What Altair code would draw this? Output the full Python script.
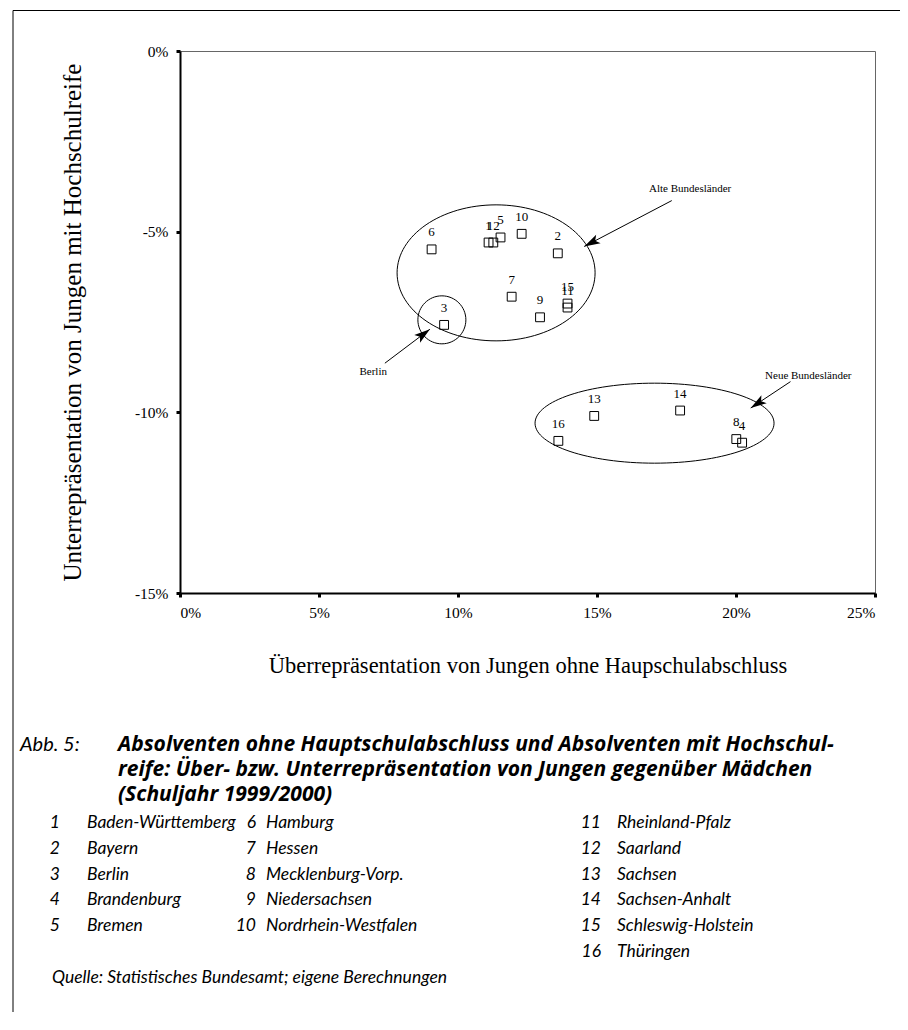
import math
import altair as alt
import pandas as pd

# ---------------- data ----------------
state_ids = list(range(1, 17))
state_names = ["Baden-Württemberg", "Bayern", "Berlin", "Brandenburg", "Bremen",
               "Hamburg", "Hessen", "Mecklenburg-Vorp.", "Niedersachsen",
               "Nordrhein-Westfalen", "Rheinland-Pfalz", "Saarland", "Sachsen",
               "Sachsen-Anhalt", "Schleswig-Holstein", "Thüringen"]
# Überrepräsentation von Jungen ohne Hauptschulabschluss (%)
x_over = [11.10, 13.59, 9.50, 20.22, 11.53, 9.05, 11.93, 20.01, 12.95, 12.29,
          13.94, 11.27, 14.90, 17.99, 13.94, 13.61]
# Unterrepräsentation von Jungen mit Hochschulreife (%)
y_under = [-5.30, -5.60, -7.58, -10.84, -5.16, -5.49, -6.80, -10.74, -7.37, -5.06,
           -7.10, -5.30, -10.10, -9.95, -6.99, -10.79]

x_ticks = [0, 5, 10, 15, 20, 25]
y_ticks = [0, -5, -10, -15]

# annotation groups (centres in data units)
group_names = ["Alte Bundesländer", "Berlin", "Neue Bundesländer"]
group_cx = [11.37, 9.42, 17.07]
group_cy = [-6.14, -7.44, -10.30]
label_x = [18.35, 6.95, 22.60]
label_y = [-3.83, -8.89, -9.00]
arrow_x0 = [17.69, 7.37, 21.96]
arrow_y0 = [-4.14, -8.64, -9.15]
arrow_x1 = [14.54, 8.99, 20.53]
arrow_y1 = [-5.41, -7.70, -9.88]

title_prefix = "Abb. 5:"
title_lines = ["Absolventen ohne Hauptschulabschluss und Absolventen mit Hochschul-",
               "reife: Über- bzw. Unterrepräsentation von Jungen gegenüber Mädchen",
               "(Schuljahr 1999/2000)"]
source_text = "Quelle: Statistisches Bundesamt; eigene Berechnungen"

x_title = "Überrepräsentation von Jungen ohne Haupschulabschluss"
y_title = "Unterrepräsentation von Jungen mit Hochschulreife"

# ---------------- layout ----------------
W, H = 695, 542
OX, OY = 180, 51          # page position of plot origin
SERIF = "Liberation Serif"
CAP_T = "Open Sans"
CAP_L = "Lato"

px_x = W / 25.0
px_y = H / 15.0

xs = alt.Scale(domain=[0, 25], nice=False, zero=False)
ys = alt.Scale(domain=[-15, 0], nice=False, zero=False)

pts = pd.DataFrame({"id": state_ids, "name": state_names, "x": x_over, "y": y_under})

base = alt.Chart(pts)
squares = base.mark_point(shape="square", size=78, filled=False, color="black",
                          strokeWidth=1, opacity=1).encode(
    x=alt.X("x:Q", scale=xs, axis=alt.Axis(values=x_ticks, title=x_title,
                                            labelExpr="datum.value + '%'",
                                            titleFontSize=22.5,
                                            titlePadding=34, labelPadding=8)),
    y=alt.Y("y:Q", scale=ys, axis=alt.Axis(values=y_ticks, title=y_title,
                                            labelExpr="datum.value + '%'",
                                            titleFontSize=25,
                                            titlePadding=49, labelPadding=8)),
)
labels = base.mark_text(font=SERIF, fontSize=13, dy=-17, color="black").encode(
    x=alt.X("x:Q", scale=xs), y=alt.Y("y:Q", scale=ys), text="id:N")

# ellipses as custom symbols
def ellipse_path(r):
    k = 0.5523
    return (f"M -1 0 C -1 {-k*r} {-k} {-r} 0 {-r} C {k} {-r} 1 {-k*r} 1 0 "
            f"C 1 {k*r} {k} {r} 0 {r} C {-k} {r} -1 {k*r} -1 0 Z")

ell_w = [198, 48, 239]   # pixel widths
ell_r = [68 / 99, 1.0, 40 / 119.5]
ellipse_layers = []
for i in range(3):
    d = pd.DataFrame({"x": [group_cx[i]], "y": [group_cy[i]]})
    ellipse_layers.append(
        alt.Chart(d).mark_point(shape=ellipse_path(ell_r[i]), size=ell_w[i] ** 2,
                                filled=False, color="black", strokeWidth=1, opacity=1)
        .encode(x=alt.X("x:Q", scale=xs), y=alt.Y("y:Q", scale=ys)))

ann = pd.DataFrame({"name": group_names, "lx": label_x, "ly": label_y,
                    "x0": arrow_x0, "y0": arrow_y0, "x1": arrow_x1, "y1": arrow_y1})
ann["angle"] = [
    (math.degrees(math.atan2(-(b1 - b0) * px_y, (a1 - a0) * px_x)) + 90) % 360
    for a0, b0, a1, b1 in zip(arrow_x0, arrow_y0, arrow_x1, arrow_y1)]

ann_text = alt.Chart(ann).mark_text(font=SERIF, fontSize=11, color="black").encode(
    x=alt.X("lx:Q", scale=xs), y=alt.Y("ly:Q", scale=ys), text="name:N")
ann_lines = alt.Chart(ann).mark_rule(color="black", strokeWidth=1).encode(
    x=alt.X("x0:Q", scale=xs), y=alt.Y("y0:Q", scale=ys), x2="x1:Q", y2="y1:Q")
arrow_head = alt.Chart(ann).mark_point(
    shape="M 0 0 L -0.6 2 L 0 1.55 L 0.6 2 Z", size=256, filled=True,
    color="black", opacity=1).encode(
    x=alt.X("x1:Q", scale=xs), y=alt.Y("y1:Q", scale=ys),
    angle=alt.Angle("angle:Q", scale=None))

# ---------------- caption ----------------
def px(v):
    return v - OX

def py(v):
    return v - OY

FT = 21     # title font size
FL = 17.5   # list font size
cap_prefix = alt.Chart(pd.DataFrame({"t": [title_prefix]})).mark_text(
    font=CAP_L, fontSize=20, fontStyle="italic", align="left", baseline="middle",
    color="black").encode(x=alt.value(px(20)), y=alt.value(py(745)), text="t:N")

tl = pd.DataFrame({"t": title_lines, "row": list(range(len(title_lines)))})
tl["py"] = [py(745 + 25 * r) for r in tl["row"]]
cap_title = alt.Chart(tl).mark_text(
    font=CAP_T, fontSize=FT, fontStyle="italic", fontWeight="bold", align="left",
    baseline="middle", color="black").encode(
    x=alt.value(px(118)), y=alt.Y("py:Q", scale=None), text="t:N")

col_num_right = [60, 256, 601]
col_name_left = [87, 266, 617]
rows = []
for i, (n, nm) in enumerate(zip(state_ids, state_names)):
    c = 0 if n <= 5 else (1 if n <= 10 else 2)
    r = (n - 1) % 5 if n <= 15 else 5
    rows.append({"num": str(n), "name": nm,
                 "nx": px(col_num_right[c]), "mx": px(col_name_left[c]),
                 "py": py(823 + 25.8 * r)})
leg = pd.DataFrame(rows)
leg_nums = alt.Chart(leg).mark_text(
    font=CAP_L, fontSize=FL, fontStyle="italic", align="right", baseline="middle",
    color="black").encode(x=alt.X("nx:Q", scale=None), y=alt.Y("py:Q", scale=None),
                          text="num:N")
leg_names = alt.Chart(leg).mark_text(
    font=CAP_L, fontSize=FL, fontStyle="italic", align="left", baseline="middle",
    color="black").encode(x=alt.X("mx:Q", scale=None), y=alt.Y("py:Q", scale=None),
                          text="name:N")
cap_source = alt.Chart(pd.DataFrame({"t": [source_text]})).mark_text(
    font=CAP_L, fontSize=FL, fontStyle="italic", align="left", baseline="middle",
    color="black").encode(x=alt.value(px(52)), y=alt.value(py(978)), text="t:N")

# outer frame (left and top lines)
frame_left = alt.Chart(pd.DataFrame({"a": [0]})).mark_rule(color="black", strokeWidth=1).encode(
    x=alt.value(px(13)), y=alt.value(py(10.5)), y2=alt.value(py(1040)))
frame_top = alt.Chart(pd.DataFrame({"a": [0]})).mark_rule(color="black", strokeWidth=1).encode(
    x=alt.value(px(13)), x2=alt.value(px(920)), y=alt.value(py(10.5)))

chart = alt.layer(
    frame_left, frame_top,
    *ellipse_layers, ann_lines, arrow_head, ann_text,
    squares, labels,
    cap_prefix, cap_title, leg_nums, leg_names, cap_source,
).properties(
    width=W, height=H,
    padding={"left": OX - 8, "top": OY - 8, "right": 900 - OX - W, "bottom": 1012 - OY - H},
    autosize=alt.AutoSizeParams(type="none"),
).configure_view(
    stroke="#666", strokeWidth=1
).configure_axis(
    grid=False, domainColor="black", domainWidth=2, tickColor="black",
    tickWidth=3, tickSize=4, labelFont=SERIF, labelFontSize=15.5, labelColor="black",
    titleFont=SERIF, titleFontSize=21, titleFontWeight="normal", titleColor="black",
)

chart.save("out.html", embed_options={"renderer": "svg", "actions": False})
